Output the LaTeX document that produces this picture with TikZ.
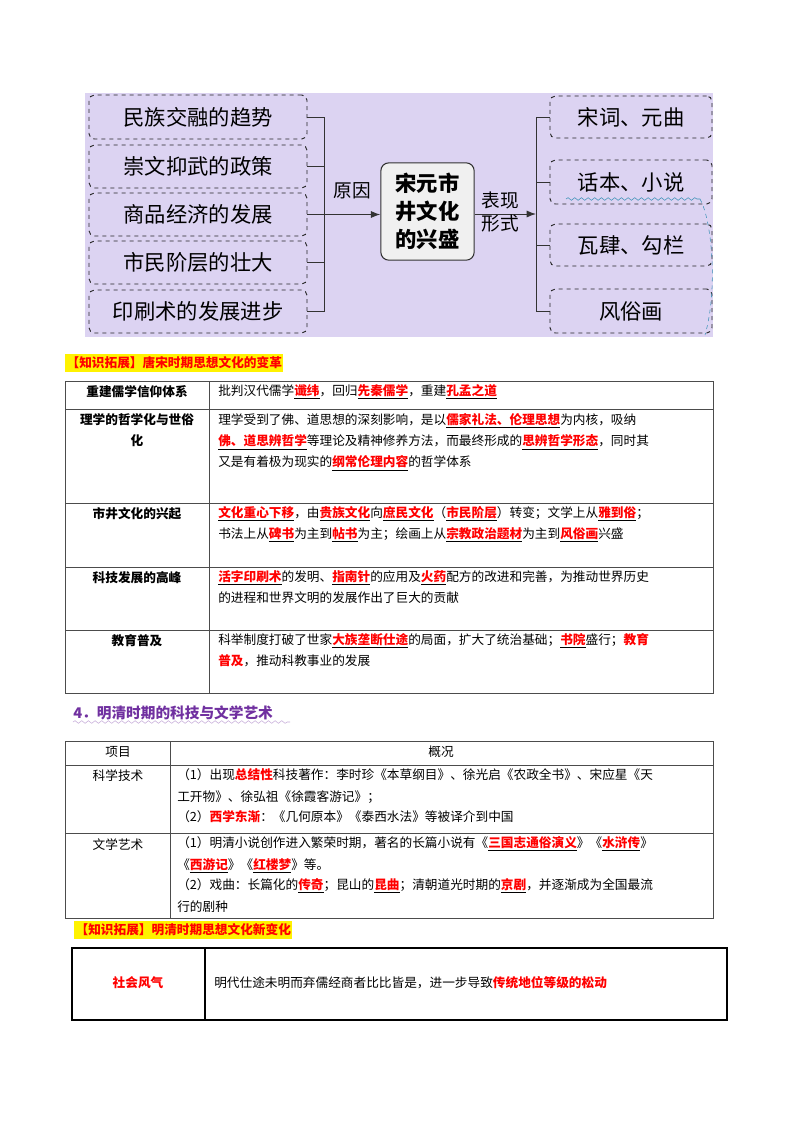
\documentclass[tikz,border=0pt]{standalone}
\usepackage{fontspec}
\setmainfont{Noto Sans CJK SC}
\usetikzlibrary{decorations.pathmorphing,arrows.meta}
\definecolor{bgp}{HTML}{DCD3F2}
\definecolor{hd}{HTML}{7030A0}
\newcommand{\hr}[1]{\underline{\textcolor{red}{\bfseries #1}}}
\newcommand{\rb}[1]{\textcolor{red}{\bfseries #1}}
\begin{document}
\begin{tikzpicture}[x=0.75pt,y=-0.75pt,
  lbox/.style={draw=black!85,dashed,line width=0.7pt,rounded corners=4pt,fill=bgp,font=\fontsize{16}{18}\selectfont,inner sep=0pt},
  ln/.style={draw=black!80,line width=0.7pt},
  cell/.style={anchor=north west,align=left,inner sep=0pt,font=\fontsize{9.5}{16}\selectfont},
  lcell/.style={align=center,inner sep=0pt,font=\fontsize{9.5}{16}\selectfont\bfseries},
  tb/.style={draw=black!70,line width=0.7pt},
  yl/.style={anchor=west,fill=yellow,inner xsep=1pt,inner ysep=2pt,font=\fontsize{9.5}{12}\selectfont\bfseries,text=red}]
\useasboundingbox (0,0) rectangle (800,1132);
\fill[white] (0,0) rectangle (800,1132);
% ---- top diagram
\fill[bgp] (85,93) rectangle (713,337);
\foreach \n/\t/\ya/\yb in {a/民族交融的趋势/95/139,b/崇文抑武的政策/145/188,c/商品经济的发展/193/236,d/市民阶层的壮大/241/284,e/印刷术的发展进步/290/333}{
  \node[lbox,minimum width=163.5pt,minimum height={(\yb-\ya)*0.75pt}] (\n) at (198,{(\ya+\yb)/2}) {\t};
}
\foreach \n/\t/\ya/\yb in {p/宋词、元曲/96/138,q/话本、小说/160/204,r/瓦肆、勾栏/224/266,s/风俗画/289/333}{
  \node[lbox,minimum width=121.5pt,minimum height={(\yb-\ya)*0.75pt}] (\n) at (631,{(\ya+\yb)/2}) {\t};
}
\node[draw=black!80,line width=0.8pt,rounded corners=6pt,fill=black!6,minimum width=70pt,minimum height=73pt,align=center,font=\fontsize{16}{21}\selectfont\bfseries] (m) at (427.5,211.5) {宋元市\\井文化\\的兴盛};
\coordinate (vl) at (324,214);
\foreach \n in {a,b,c,d,e} \draw[ln] (\n.east) -- (\n.east -| vl);
\draw[ln] (a.east -| vl) -- (e.east -| vl);
\draw[ln,-{Latex[length=7pt]}] (c.east -| vl) -- (m.west |- c.east);
\node[font=\fontsize{14}{16}\selectfont] (yy) at (352,191) {原因};
\coordinate (vr) at (536,214);
\draw[ln,-{Latex[length=7pt]}] (m.east |- vr) -- (vr);
\node[font=\fontsize{14}{17}\selectfont,align=center] (bx) at (500,212) {表现\\形式};
\foreach \n in {p,q,r,s} \draw[ln] (\n.west -| vr) -- (\n.west);
\draw[ln] (p.west -| vr) -- (s.west -| vr);
\draw[cyan!70!black,thin,decorate,decoration={snake,amplitude=1pt,segment length=5pt}] (566,199) -- (700,199);
\draw[cyan!70!black,thin,dashed] (700,199) .. controls (712,220) and (718,290) .. (705,335);
% ---- section 1
\node[yl] (h1) at (65,363) {【知识拓展】唐宋时期思想文化的变革};
\draw[tb] (65,381) rectangle (713,693);
\draw[tb] (209,381) -- (209,693);
\foreach \y in {409,503,567,630} \draw[tb] (65,\y) -- (713,\y);
\node[lcell] (l1) at (137,392) {重建儒学信仰体系};
\node[lcell] (l2) at (137,430) {理学的哲学化与世俗\\化};
\node[lcell] (l3) at (137,514) {市井文化的兴起};
\node[lcell] (l4) at (137,578) {科技发展的高峰};
\node[lcell] (l5) at (137,641) {教育普及};
\node[cell] (c1) at (218,384) {批判汉代儒学\hr{谶纬}，回归\hr{先秦儒学}，重建\hr{孔孟之道}};
\node[cell] (c2) at (218,413) {理学受到了佛、道思想的深刻影响，是以\hr{儒家礼法、伦理思想}为内核，吸纳\\\hr{佛、道思辨哲学}等理论及精神修养方法，而最终形成的\hr{思辨哲学形态}，同时其\\又是有着极为现实的\hr{纲常伦理内容}的哲学体系};
\node[cell] (c3) at (218,506) {\hr{文化重心下移}，由\hr{贵族文化}向\hr{庶民文化}（\hr{市民阶层}）转变；文学上从\hr{雅到俗}；\\书法上从\hr{碑书}为主到\hr{帖书}为主；绘画上从\hr{宗教政治题材}为主到\hr{风俗画}兴盛};
\node[cell] (c4) at (218,570) {\hr{活字印刷术}的发明、\hr{指南针}的应用及\hr{火药}配方的改进和完善，为推动世界历史\\的进程和世界文明的发展作出了巨大的贡献};
\node[cell] (c5) at (218,633) {科举制度打破了世家\hr{大族垄断仕途}的局面，扩大了统治基础；\hr{书院}盛行；\rb{教育}\\\rb{普及}，推动科教事业的发展};
% ---- section 4
\node[anchor=west,inner sep=0pt,font=\fontsize{11}{13}\selectfont\bfseries,text=hd] (h4) at (73,713) {4．明清时期的科技与文学艺术};
\draw[hd!40,decorate,decoration={snake,amplitude=1pt,segment length=5pt}] (73,722) -- (290,722);
\draw[tb] (65,741) rectangle (713,918);
\draw[tb] (170,741) -- (170,918);
\foreach \y in {765,833} \draw[tb] (65,\y) -- (713,\y);
\node[inner sep=0pt,font=\fontsize{9.5}{12}\selectfont] (t1) at (118,752) {项目};
\node[inner sep=0pt,font=\fontsize{9.5}{12}\selectfont] (t2) at (441,752) {概况};
\node[inner sep=0pt,font=\fontsize{9.5}{12}\selectfont] (t3) at (118,776) {科学技术};
\node[inner sep=0pt,font=\fontsize{9.5}{12}\selectfont] (t4) at (118,845) {文学艺术};
\node[cell,font=\fontsize{9.5}{16.5}\selectfont] (g1) at (177,768) {（1）出现\rb{总结性}科技著作：李时珍《本草纲目》、徐光启《农政全书》、宋应星《天\\工开物》、徐弘祖《徐霞客游记》；};
\node[cell] (g2) at (177,810) {（2）\rb{西学东渐}：《几何原本》《泰西水法》等被译介到中国};
\node[cell,font=\fontsize{9.5}{16.5}\selectfont] (g3) at (177,836) {（1）明清小说创作进入繁荣时期，著名的长篇小说有《\hr{三国志通俗演义}》《\hr{水浒传}》\\《\hr{西游记}》《\hr{红楼梦}》等。};
\node[cell,font=\fontsize{9.5}{16.5}\selectfont] (g4) at (177,878) {（2）戏曲：长篇化的\hr{传奇}；昆山的\hr{昆曲}；清朝道光时期的\hr{京剧}，并逐渐成为全国最流\\行的剧种};
% ---- last
\node[yl] (h5) at (74,930) {【知识拓展】明清时期思想文化新变化};
\draw[black,line width=1.4pt] (72,948) rectangle (727,1020);
\draw[black,line width=1.2pt] (205,948) -- (205,1020);
\node[inner sep=0pt,font=\fontsize{9.5}{12}\selectfont\bfseries,text=red] (s1) at (138,983) {社会风气};
\node[anchor=west,inner sep=0pt,font=\fontsize{9.5}{12}\selectfont] (s2) at (214,983) {明代仕途未明而弃儒经商者比比皆是，进一步导致\rb{传统地位等级的松动}};
\end{tikzpicture}
\end{document}
